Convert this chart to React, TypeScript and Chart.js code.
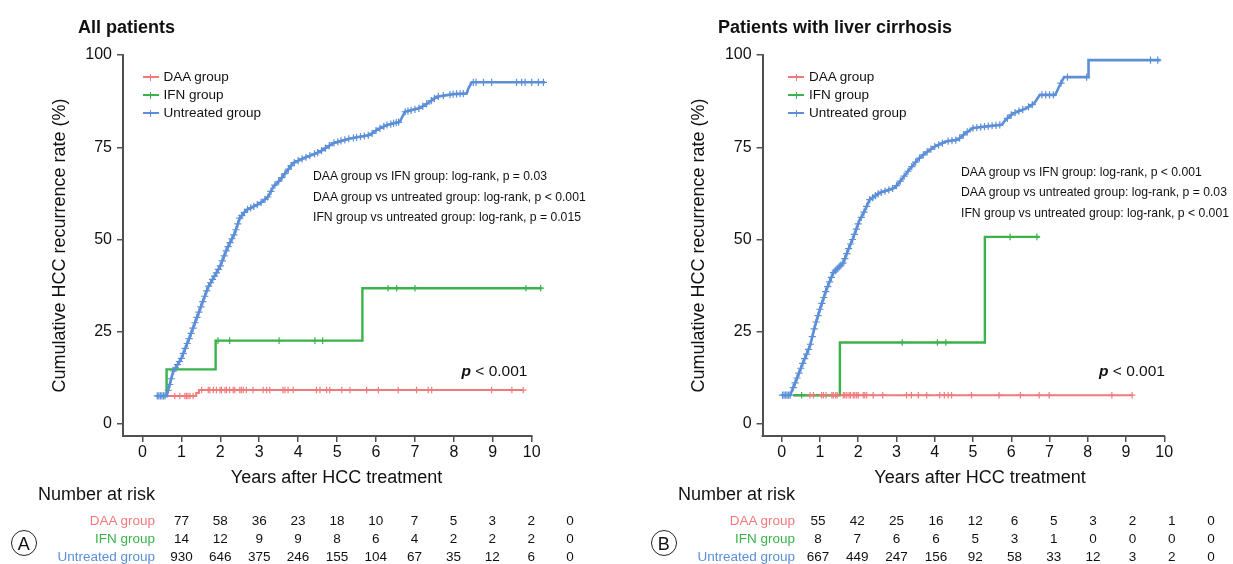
import React, { useEffect, useRef } from "react";
import { Chart, registerables } from "chart.js";

Chart.register(...registerables);

const FONT = "'Liberation Sans', Arial, Helvetica, sans-serif";
const RED = "#F27A7A";
const GREEN = "#3BB24A";
const BLUE = "#5C8FD8";
const AXIS = "#505050";

// ---------- shared ticks / labels ----------
const yearTicks = [0, 1, 2, 3, 4, 5, 6, 7, 8, 9, 10];
const pctTicks = [0, 25, 50, 75, 100];
const groupNames = ["DAA group", "IFN group", "Untreated group"];

// ---------- Panel A: All patients ----------
const daaA_t = [0.55, 1.38, 1.45, 9.78];
const daaA_v = [7.6, 8.4, 9.2, 9.2];
const daaA_cens = [0.83, 0.96, 1.09, 1.13, 1.17, 1.22, 1.3, 1.52, 1.69, 1.73, 1.82, 1.9, 1.99, 2.03, 2.12, 2.16, 2.24, 2.33, 2.37, 2.5, 2.54, 2.59, 2.67, 2.84, 3.1, 3.19, 3.27, 3.61, 3.66, 3.74, 3.87, 4.47, 4.56, 4.73, 4.81, 5.12, 5.33, 5.76, 6.06, 6.57, 7.04, 7.34, 7.43, 8.97, 9.49, 9.78];

const ifnA_t = [0.55, 0.62, 1.88, 5.65, 10.26];
const ifnA_v = [7.6, 14.8, 22.6, 36.8, 36.8];
const ifnA_cens = [1.94, 2.24, 3.51, 4.43, 4.63, 6.31, 6.53, 7.0, 9.85, 10.23];

const untA_t = [0.36, 0.62, 0.79, 1.0, 1.22, 1.47, 1.69, 1.99, 2.16, 2.37, 2.5, 2.67, 3.02, 3.23, 3.36, 3.53, 3.7, 3.87, 4.13, 4.56, 4.9, 5.33, 5.84, 6.02, 6.27, 6.61, 6.74, 7.13, 7.39, 7.56, 7.98, 8.33, 8.37, 8.46, 10.34];
const untA_v = [7.6, 7.6, 14.2, 17.8, 23.7, 30.9, 37.2, 42.6, 47.2, 51.7, 55.8, 58.0, 59.8, 61.6, 64.3, 66.1, 68.4, 70.7, 72.0, 73.8, 76.1, 77.4, 78.3, 79.7, 81.0, 81.9, 84.6, 85.6, 87.4, 88.7, 89.4, 89.6, 90.9, 92.6, 92.6];
const untA_cens = [0.38, 0.42, 0.46, 0.5, 0.54, 0.58, 0.66, 0.7, 0.74, 0.8, 0.85, 0.9, 0.95, 1.0, 1.05, 1.1, 1.15, 1.2, 1.25, 1.3, 1.35, 1.4, 1.45, 1.5, 1.55, 1.6, 1.65, 1.7, 1.75, 1.8, 1.85, 1.9, 1.95, 2.0, 2.05, 2.1, 2.15, 2.2, 2.25, 2.3, 2.35, 2.4, 2.45, 2.5, 2.55, 2.62, 2.7, 2.78, 2.86, 2.95, 3.05, 3.15, 3.22, 3.3, 3.4, 3.5, 3.58, 3.66, 3.75, 3.82, 3.9, 4.0, 4.1, 4.2, 4.3, 4.42, 4.5, 4.6, 4.7, 4.8, 4.92, 5.02, 5.1, 5.2, 5.3, 5.42, 5.5, 5.6, 5.7, 5.8, 5.9, 6.0, 6.1, 6.2, 6.28, 6.38, 6.45, 6.52, 6.58, 6.75, 6.82, 6.9, 7.0, 7.1, 7.2, 7.3, 7.42, 7.5, 7.6, 7.73, 7.9, 7.98, 8.07, 8.16, 8.24, 8.5, 8.57, 8.76, 8.97, 9.61, 9.74, 9.83, 10.0, 10.17, 10.3];

const riskA_daa = [77, 58, 36, 23, 18, 10, 7, 5, 3, 2, 0];
const riskA_ifn = [14, 12, 9, 9, 8, 6, 4, 2, 2, 2, 0];
const riskA_unt = [930, 646, 375, 246, 155, 104, 67, 35, 12, 6, 0];
const pvalsA = [
  "DAA group vs IFN group: log-rank, p = 0.03",
  "DAA group vs untreated group: log-rank, p < 0.001",
  "IFN group vs untreated group: log-rank, p = 0.015",
];

// ---------- Panel B: Patients with liver cirrhosis ----------
const daaB_t = [0.3, 9.16];
const daaB_v = [7.8, 7.8];
const daaB_cens = [0.74, 0.83, 1.04, 1.09, 1.16, 1.31, 1.35, 1.41, 1.45, 1.61, 1.65, 1.7, 1.76, 1.8, 1.87, 1.91, 1.96, 2.0, 2.13, 2.17, 2.22, 2.39, 2.64, 3.26, 3.39, 3.57, 3.79, 4.13, 4.25, 4.35, 4.44, 4.96, 5.68, 6.24, 6.73, 6.99, 8.63, 9.16];

const ifnB_t = [0.3, 1.52, 5.31, 6.74];
const ifnB_v = [7.8, 22.1, 50.7, 50.7];
const ifnB_cens = [0.52, 3.15, 4.07, 4.29, 5.97, 6.67];

const untB_t = [0, 0.22, 0.39, 0.56, 0.74, 0.87, 1.0, 1.17, 1.35, 1.61, 1.74, 1.87, 2.04, 2.1, 2.3, 2.55, 2.95, 3.1, 3.3, 3.55, 3.75, 4.0, 4.3, 4.6, 4.8, 5.0, 5.3, 5.75, 5.85, 6.05, 6.4, 6.6, 6.75, 7.15, 7.25, 7.38, 8.02, 8.02, 9.9];
const untB_v = [7.8, 7.8, 12.2, 16.7, 21.2, 26.6, 31.1, 36.5, 41.0, 43.7, 47.3, 50.5, 55.4, 56.3, 60.8, 62.6, 64.0, 65.8, 68.5, 71.6, 73.4, 75.2, 76.6, 77.0, 78.8, 80.2, 80.6, 81.1, 82.4, 84.2, 85.6, 86.9, 89.2, 89.2, 91.4, 94.0, 94.0, 98.6, 98.6];
const untB_cens = [0.02, 0.06, 0.1, 0.14, 0.18, 0.22, 0.3, 0.35, 0.4, 0.45, 0.5, 0.55, 0.6, 0.65, 0.7, 0.75, 0.8, 0.85, 0.9, 0.95, 1.0, 1.05, 1.1, 1.15, 1.2, 1.25, 1.3, 1.35, 1.4, 1.45, 1.5, 1.55, 1.6, 1.65, 1.7, 1.75, 1.8, 1.85, 1.9, 1.95, 2.0, 2.08, 2.15, 2.22, 2.3, 2.38, 2.45, 2.52, 2.6, 2.7, 2.8, 2.9, 3.0, 3.1, 3.2, 3.3, 3.4, 3.5, 3.6, 3.7, 3.8, 3.9, 4.0, 4.1, 4.2, 4.35, 4.45, 4.55, 4.65, 4.75, 4.85, 5.0, 5.1, 5.2, 5.3, 5.4, 5.5, 5.6, 5.7, 5.9, 6.0, 6.1, 6.2, 6.3, 6.45, 6.55, 6.8, 6.9, 7.0, 7.1, 7.3, 7.47, 7.97, 9.64, 9.83];

const riskB_daa = [55, 42, 25, 16, 12, 6, 5, 3, 2, 1, 0];
const riskB_ifn = [8, 7, 6, 6, 5, 3, 1, 0, 0, 0, 0];
const riskB_unt = [667, 449, 247, 156, 92, 58, 33, 12, 3, 2, 0];
const pvalsB = [
  "DAA group vs IFN group: log-rank, p < 0.001",
  "DAA group vs untreated group: log-rank, p = 0.03",
  "IFN group vs untreated group: log-rank, p < 0.001",
];

type Series = { t: number[]; v: number[]; cens: number[]; color: string; stepped: boolean; width: number; mark: number };

function levelAt(s: Series, x: number): number {
  const { t, v, stepped } = s;
  let i = 0;
  while (i < t.length - 1 && t[i + 1] <= x) i++;
  if (stepped || i >= t.length - 1) return v[i];
  const f = (x - t[i]) / (t[i + 1] - t[i]);
  return v[i] + f * (v[i + 1] - v[i]);
}

const xAxisLine = {
  id: "xAxisLine",
  afterDraw(chart: any) {
    const { ctx, chartArea, scales } = chart;
    const x = scales.x;
    ctx.save();
    ctx.strokeStyle = AXIS;
    ctx.lineWidth = 2;
    ctx.beginPath();
    ctx.moveTo(chartArea.left - 1, chartArea.bottom);
    ctx.lineTo(x.getPixelForValue(10) + 0.75, chartArea.bottom);
    ctx.stroke();
    ctx.restore();
  },
};

type KMProps = { series: Series[]; left: number; width: number; padLeft: number; padRight: number };

function KMChart({ series, left, width, padLeft, padRight }: KMProps) {
  const ref = useRef<HTMLCanvasElement>(null);
  useEffect(() => {
    if (!ref.current) return;
    const datasets: any[] = [];
    series.forEach((s) => {
      datasets.push({
        type: "scatter",
        data: s.cens.map((x) => ({ x, y: levelAt(s, x) })),
        pointStyle: "cross",
        pointRadius: s.mark,
        pointBorderWidth: 1.2,
        borderColor: s.color,
        backgroundColor: s.color,
        showLine: false,
        clip: false,
      });
    });
    series.forEach((s) => {
      datasets.push({
        type: "line",
        data: s.t.map((x, i) => ({ x, y: s.v[i] })),
        borderColor: s.color,
        backgroundColor: s.color,
        borderWidth: s.width,
        stepped: s.stepped ? "before" : false,
        tension: 0,
        pointRadius: 0,
        fill: false,
        clip: false,
      });
    });
    const chart = new Chart(ref.current, {
      type: "line",
      data: { datasets },
      plugins: [xAxisLine],
      options: {
        animation: false,
        responsive: false,
        maintainAspectRatio: false,
        events: [],
        layout: { padding: { left: padLeft, right: padRight, top: 55, bottom: 4 } },
        plugins: { legend: { display: false }, tooltip: { enabled: false } },
        scales: {
          x: {
            type: "linear",
            min: -0.5,
            max: 10.5,
            afterBuildTicks: (sc: any) => {
              sc.ticks = yearTicks.map((v) => ({ value: v }));
            },
            afterFit: (sc: any) => {
              sc.height = 30;
            },
            grid: { display: true, drawOnChartArea: false, drawTicks: true, tickLength: 6, color: AXIS, lineWidth: 1.5 },
            border: { display: false },
            ticks: { font: { size: 16, family: FONT }, color: "#111", padding: 1, maxRotation: 0, autoSkip: false },
          },
          y: {
            type: "linear",
            min: -3.25,
            max: 100,
            afterBuildTicks: (sc: any) => {
              sc.ticks = pctTicks.map((v) => ({ value: v }));
            },
            afterFit: (sc: any) => {
              sc.width = 83;
            },
            grid: { display: true, drawOnChartArea: false, drawTicks: true, tickLength: 6, color: AXIS, lineWidth: 1.5 },
            border: { display: true, color: AXIS, width: 2 },
            ticks: { font: { size: 16, family: FONT }, color: "#111", padding: 5, autoSkip: false },
            title: {
              display: true,
              text: "Cumulative HCC recurrence rate (%)",
              font: { size: 18, family: FONT },
              color: "#111",
              padding: { top: 9, bottom: 0 },
            },
          },
        },
      } as any,
    });
    return () => chart.destroy();
  }, [series, padLeft, padRight]);
  return (
    <canvas
      ref={ref}
      width={width}
      height={470}
      style={{ position: "absolute", left, top: 0, width, height: 470 }}
    />
  );
}

type TProps = { x: number; y: number; size: number; children: React.ReactNode; align?: "left" | "center" | "right"; bold?: boolean; color?: string };

function T({ x, y, size, children, align = "left", bold, color = "#111" }: TProps) {
  const tx = align === "left" ? "0" : align === "center" ? "-50%" : "-100%";
  return (
    <div
      style={{
        position: "absolute",
        left: x,
        top: y,
        transform: `translate(${tx}, -50%)`,
        fontSize: size,
        fontWeight: bold ? "bold" : "normal",
        color,
        whiteSpace: "nowrap",
        lineHeight: 1,
        fontFamily: FONT,
      }}
    >
      {children}
    </div>
  );
}

function LegendRow({ x, y, color, label }: { x: number; y: number; color: string; label: string }) {
  return (
    <>
      <div style={{ position: "absolute", left: x, top: y - 1, width: 16, height: 2, background: color }} />
      <div style={{ position: "absolute", left: x + 7.5, top: y - 3.5, width: 1.2, height: 7, background: color }} />
      <T x={x + 21} y={y} size={13.5}>
        {label}
      </T>
    </>
  );
}

type PanelProps = {
  offset: number;
  title: string;
  series: Series[];
  canvasWidth: number;
  padLeft: number;
  padRight: number;
  legendX: number;
  pvals: string[];
  pvalX: number;
  pvalY: number[];
  pX: number;
  xTitleX: number;
  riskLabelX: number;
  riskX0: number;
  riskDX: number;
  risk: number[][];
  letter: string;
  letterX: number;
};

function Panel(p: PanelProps) {
  const colors = [RED, GREEN, BLUE];
  const rowY = [521, 539.3, 557];
  return (
    <>
      <KMChart series={p.series} left={p.offset} width={p.canvasWidth} padLeft={p.padLeft} padRight={p.padRight} />
      <T x={p.offset + 78} y={27} size={18} bold>
        {p.title}
      </T>
      {groupNames.map((g, i) => (
        <LegendRow key={g} x={p.legendX} y={77.3 + i * 18} color={colors[i]} label={g} />
      ))}
      {p.pvals.map((s, i) => (
        <T key={s} x={p.pvalX} y={p.pvalY[i]} size={12.2}>
          {s}
        </T>
      ))}
      <T x={p.pX} y={370.5} size={15.5}>
        <span style={{ fontWeight: "bold", fontStyle: "italic" }}>p</span> &lt; 0.001
      </T>
      <T x={p.xTitleX} y={477} size={18} align="center">
        Years after HCC treatment
      </T>
      <T x={p.offset + 38} y={493.5} size={18}>
        Number at risk
      </T>
      {groupNames.map((g, i) => (
        <T key={g} x={p.riskLabelX} y={rowY[i]} size={13.5} align="right" color={colors[i]}>
          {g}
        </T>
      ))}
      {p.risk.map((row, r) =>
        row.map((n, c) => (
          <T key={`${r}-${c}`} x={p.riskX0 + c * p.riskDX} y={rowY[r]} size={13.5} align="center">
            {n}
          </T>
        ))
      )}
      <div
        style={{
          position: "absolute",
          left: p.letterX - 13,
          top: 543 - 13,
          width: 24,
          height: 24,
          border: "1.3px solid #222",
          borderRadius: "50%",
        }}
      />
      <T x={p.letterX - 0.3} y={543.5} size={18} align="center">
        {p.letter}
      </T>
    </>
  );
}

export default function App() {
  const seriesA: Series[] = [
    { t: untA_t, v: untA_v, cens: untA_cens, color: BLUE, stepped: false, width: 2.6, mark: 3.6 },
    { t: ifnA_t, v: ifnA_v, cens: ifnA_cens, color: GREEN, stepped: true, width: 2.4, mark: 3.3 },
    { t: daaA_t, v: daaA_v, cens: daaA_cens, color: RED, stepped: true, width: 2.0, mark: 3.3 },
  ];
  const seriesB: Series[] = [
    { t: untB_t, v: untB_v, cens: untB_cens, color: BLUE, stepped: false, width: 2.6, mark: 3.6 },
    { t: ifnB_t, v: ifnB_v, cens: ifnB_cens, color: GREEN, stepped: true, width: 2.4, mark: 3.3 },
    { t: daaB_t, v: daaB_v, cens: daaB_cens, color: RED, stepped: true, width: 2.0, mark: 3.3 },
  ];
  return (
    <div
      style={{
        position: "absolute",
        left: 0,
        top: 0,
        width: 1233,
        height: 564,
        overflow: "hidden",
        background: "#fff",
        fontFamily: FONT,
      }}
    >
      <Panel
        offset={0}
        title="All patients"
        series={seriesA}
        canvasWidth={600}
        padLeft={40}
        padRight={48.8}
        legendX={142.5}
        pvals={pvalsA}
        pvalX={313}
        pvalY={[176, 196.7, 217.3]}
        pX={461.5}
        xTitleX={336.5}
        riskLabelX={155}
        riskX0={181.5}
        riskDX={38.85}
        risk={[riskA_daa, riskA_ifn, riskA_unt]}
        letter="A"
        letterX={24}
      />
      <Panel
        offset={640}
        title="Patients with liver cirrhosis"
        series={seriesB}
        canvasWidth={593}
        padLeft={39.6}
        padRight={49.6}
        legendX={788}
        pvals={pvalsB}
        pvalX={961}
        pvalY={[171.7, 192.3, 213]}
        pX={1099}
        xTitleX={980}
        riskLabelX={795}
        riskX0={818}
        riskDX={39.3}
        risk={[riskB_daa, riskB_ifn, riskB_unt]}
        letter="B"
        letterX={664}
      />
    </div>
  );
}
